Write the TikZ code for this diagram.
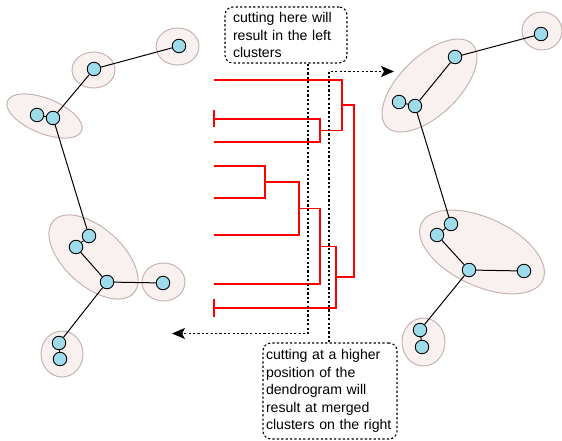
\documentclass[tikz,border=0pt]{standalone}
\usepackage{fontspec}
\setmainfont{Liberation Sans}
\usetikzlibrary{arrows.meta,calc}
\definecolor{nodeblue}{HTML}{9EDCEC}
\definecolor{blobfill}{HTML}{F9F1F0}
\definecolor{blobline}{HTML}{C6B3B3}
\definecolor{dred}{HTML}{FF0000}
\begin{document}
\begin{tikzpicture}[x=1pt,y=-1pt,
  pt/.style={circle,draw=black,fill=nodeblue,minimum size=13.5pt,inner sep=0pt,line width=0.9pt},
  blob/.style={draw=blobline,fill=blobfill,line width=1pt},
  edge/.style={draw=black,line width=1pt},
  dend/.style={draw=dred,line width=1.6pt},
  cut/.style={draw=black,line width=1.1pt,dash pattern=on 2.2pt off 2.2pt},
  cutarrow/.style={cut,-{Stealth[length=13pt,width=11pt,inset=3pt]}},
  note/.style={draw=black,line width=1.1pt,dash pattern=on 2.2pt off 2.2pt,rounded corners=8pt,
    align=left,font=\fontsize{14.1}{17.6}\selectfont,inner sep=0pt}
]
\useasboundingbox (0,0) rectangle (562,441);

% ---- left clusters (blobs)
\draw[blob] (177.5,46.5) ellipse [x radius=21.5, y radius=18.5];
\draw[blob] (93.5,70) ellipse [x radius=21.5, y radius=18];
\draw[blob, rotate around={-22:(44.5,116)}] (44.5,116) ellipse [x radius=40, y radius=17.5];
\draw[blob, rotate around={-42:(93.5,257)}] (93.5,257) ellipse [x radius=54, y radius=29];
\draw[blob] (163.5,282) ellipse [x radius=21.5, y radius=19];
\draw[blob] (62,354) ellipse [x radius=21, y radius=23];

% ---- right clusters (blobs)
\draw[blob] (542,31) ellipse [x radius=20, y radius=19];
\draw[blob, rotate around={44:(429.5,85.5)}] (429.5,85.5) ellipse [x radius=59.5, y radius=29.5];
\draw[blob, rotate around={-25:(482,252)}] (482,252) ellipse [x radius=67, y radius=34];
\draw[blob] (423.5,342) ellipse [x radius=21.5, y radius=24];

% ---- left graph
\node[pt] (la)  at (179,46) {};
\node[pt] (lb)  at (94,69) {};
\node[pt] (lc1) at (37,115) {};
\node[pt] (lc2) at (53,118) {};
\node[pt] (ld1) at (89,236) {};
\node[pt] (ld2) at (76,247) {};
\node[pt] (le)  at (107,282) {};
\node[pt] (lf)  at (163,283) {};
\node[pt] (lg1) at (59,343) {};
\node[pt] (lg2) at (60,359) {};
\draw[edge] (la) -- (lb);
\draw[edge] (lb) -- (lc2);
\draw[edge] (lc1) -- (lc2);
\draw[edge] (lc2) -- (ld1);
\draw[edge] (ld1) -- (ld2);
\draw[edge] (ld2) -- (le);
\draw[edge] (le) -- (lf);
\draw[edge] (le) -- (lg1);
\draw[edge] (lg1) -- (lg2);

% ---- right graph
\node[pt] (ra)  at (541,34) {};
\node[pt] (rb)  at (455,57) {};
\node[pt] (rc1) at (399,102) {};
\node[pt] (rc2) at (415,106) {};
\node[pt] (rd1) at (451,224) {};
\node[pt] (rd2) at (437,235) {};
\node[pt] (re)  at (469,270) {};
\node[pt] (rf)  at (524,271) {};
\node[pt] (rg1) at (420,330) {};
\node[pt] (rg2) at (422,347) {};
\draw[edge] (ra) -- (rb);
\draw[edge] (rb) -- (rc2);
\draw[edge] (rc1) -- (rc2);
\draw[edge] (rc2) -- (rd1);
\draw[edge] (rd1) -- (rd2);
\draw[edge] (rd2) -- (re);
\draw[edge] (re) -- (rf);
\draw[edge] (re) -- (rg1);
\draw[edge] (rg1) -- (rg2);

% ---- dendrogram
\coordinate (L1) at (214,80);
\coordinate (L2) at (214,119);
\coordinate (L3) at (214,142);
\coordinate (L4) at (214,166);
\coordinate (L5) at (214,198);
\coordinate (L6) at (214,235);
\coordinate (L7) at (214,284);
\coordinate (L8) at (214,308);
\coordinate (m23)   at (320,130.5);
\coordinate (m123)  at (342,105);
\coordinate (m45)   at (265,182);
\coordinate (m456)  at (299,208.5);
\coordinate (m4567) at (320,246.5);
\coordinate (m8)    at (336,277);
\coordinate (root)  at (354,190);
\draw[dend] (L2) -| (m23);
\draw[dend] (L3) -| (m23);
\draw[dend] (L1) -| (m123);
\draw[dend] (m23) -| (m123);
\draw[dend] (L4) -| (m45);
\draw[dend] (L5) -| (m45);
\draw[dend] (m45) -| (m456);
\draw[dend] (L6) -| (m456);
\draw[dend] (m456) -| (m4567);
\draw[dend] (L7) -| (m4567);
\draw[dend] (m4567) -| (m8);
\draw[dend] (L8) -| (m8);
\draw[dend] (m123) -| (root);
\draw[dend] (m8) -| (root);
\draw[dend] ($(L2)+(0,-8.5)$) -- ($(L2)+(0,8.5)$);
\draw[dend] ($(L8)+(0,-9)$) -- ($(L8)+(0,9)$);

% ---- notes
\node[note, minimum width=122pt, minimum height=56pt, text width=106pt] (box1) at (286,35)
  {cutting here will\\result in the left\\clusters};
\node[note, minimum width=134pt, minimum height=96pt, text width=128pt] (box2) at (330,391)
  {cutting at a higher\\position of the\\dendrogram will\\result at merged\\clusters on the right};

% ---- cut lines
\coordinate (cA) at (308,333.5);
\coordinate (arrL) at (172,333.5);
\coordinate (cB) at (329,71.5);
\coordinate (arrR) at (394,71.5);
\draw[cutarrow] (box1.south -| cA) -- (cA) -- (arrL);
\draw[cutarrow] (box2.north -| cB) -- (cB) -- (arrR);
\end{tikzpicture}
\end{document}
